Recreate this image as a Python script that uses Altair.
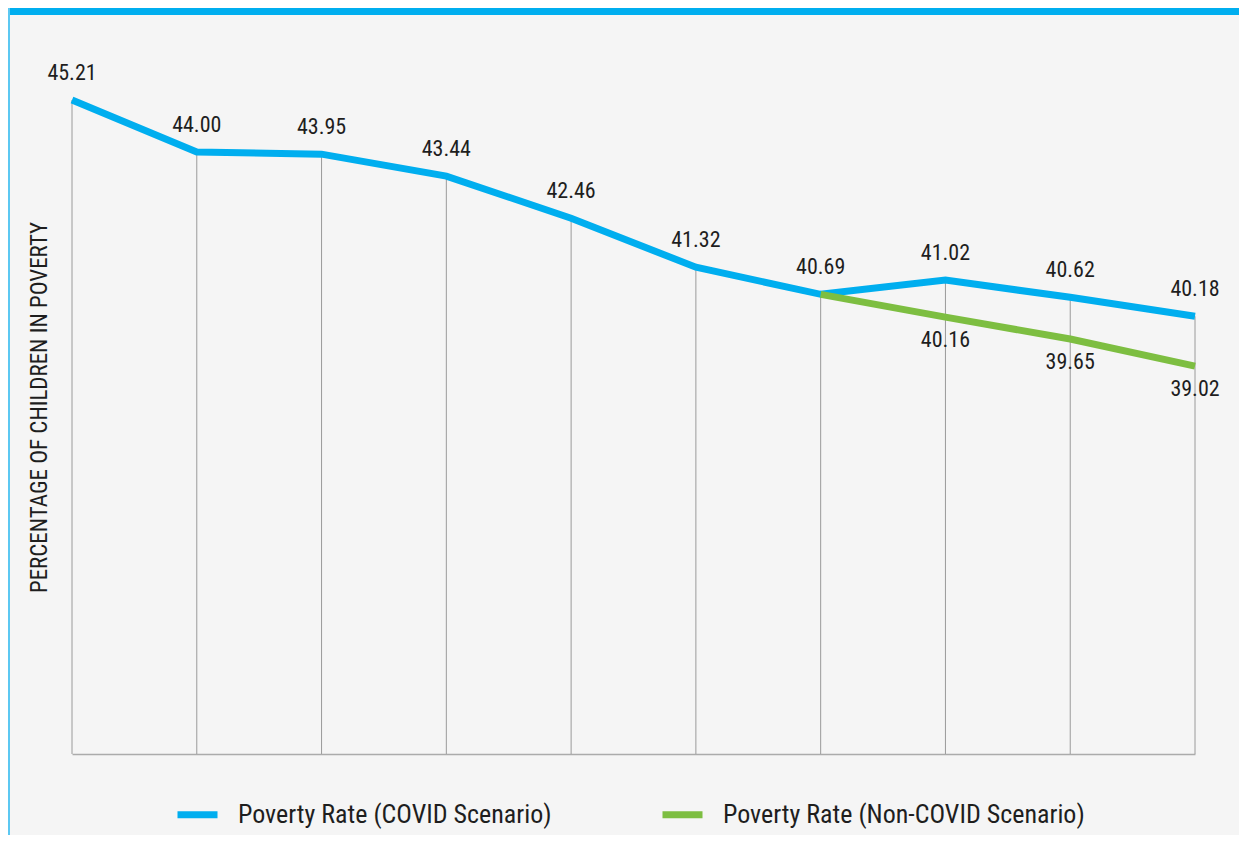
import altair as alt
import pandas as pd

# ---- data ----
steps = list(range(10))
covid = [45.21, 44.00, 43.95, 43.44, 42.46, 41.32, 40.69, 41.02, 40.62, 40.18]
noncovid_steps = [6, 7, 8, 9]
noncovid = [40.69, 40.16, 39.65, 39.02]
series_names = ["Poverty Rate (COVID Scenario)", "Poverty Rate (Non-COVID Scenario)"]
colors = ["#00AEEF", "#7DBE41"]
y_title = "PERCENTAGE OF CHILDREN IN POVERTY"

FONT = "Liberation Sans Narrow, Roboto Condensed, Arial Narrow, sans-serif"
TEXT = "#1e1e1e"

df_c = pd.DataFrame({"step": steps, "value": covid, "series": series_names[0]})
df_n = pd.DataFrame({"step": noncovid_steps, "value": noncovid, "series": series_names[1]})
df = pd.concat([df_c, df_n], ignore_index=True)
df_n_lab = df_n[df_n["step"] > 6]

W, H = 1123, 688
PAD = {"left": 64, "top": 58, "right": 44, "bottom": 81}

x = alt.X(
    "step:Q",
    scale=alt.Scale(domain=[0, 9], nice=False, zero=False),
    axis=alt.Axis(title=None, labels=False, ticks=False, grid=False, domain=True,
                  domainColor="#ababab", domainWidth=1.5),
)
y = alt.Y(
    "value:Q",
    scale=alt.Scale(domain=[30, 46], nice=False, zero=False),
    axis=alt.Axis(title=y_title, labels=False, ticks=False, grid=False, domain=False,
                  titleX=-21, titleY=341, titleFont=FONT, titleFontSize=23,
                  titleFontWeight="normal", titleColor=TEXT),
)

rules = alt.Chart(df_c).mark_rule(color="#9a9a9a", strokeWidth=1).encode(
    x=x, y=y, y2=alt.datum(30)
)

lines = alt.Chart(df).mark_line(strokeWidth=7).encode(
    x=x,
    y=y,
    order="step:Q",
    color=alt.Color(
        "series:N",
        scale=alt.Scale(domain=series_names, range=colors),
        legend=alt.Legend(
            title=None, orient="none", legendX=102, legendY=725, direction="horizontal",
            symbolType="stroke", symbolSize=1600, symbolStrokeWidth=7,
            labelFont=FONT, labelFontSize=26, labelColor=TEXT, labelOffset=17,
            labelLimit=500, columnPadding=96, padding=0,
        ),
    ),
)

lab_c = alt.Chart(df_c).mark_text(dy=-27, fontSize=22, font=FONT, color=TEXT).encode(
    x=x, y=y, text=alt.Text("value:Q", format=".2f")
)
lab_n = alt.Chart(df_n_lab).mark_text(dy=23, fontSize=22, font=FONT, color=TEXT).encode(
    x=x, y=y, text=alt.Text("value:Q", format=".2f")
)

one = pd.DataFrame({"k": [0]})
top_bar = alt.Chart(one).mark_rect(color="#00AEEF").encode(
    x=alt.value(-PAD["left"]), x2=alt.value(W + PAD["right"]),
    y=alt.value(-PAD["top"]), y2=alt.value(-PAD["top"] + 7),
)
left_bar = alt.Chart(one).mark_rect(color="#5cc8f2").encode(
    x=alt.value(-PAD["left"]), x2=alt.value(-PAD["left"] + 2),
    y=alt.value(-PAD["top"]), y2=alt.value(H + PAD["bottom"]),
)

chart = (
    alt.layer(rules, lines, lab_c, lab_n, top_bar, left_bar)
    .properties(width=W, height=H, padding=PAD, autosize=alt.AutoSizeParams(type="none"))
    .configure(background="#f5f5f5")
    .configure_view(stroke=None)
)

chart.save("out.html", embed_options={"renderer": "svg", "actions": False})
